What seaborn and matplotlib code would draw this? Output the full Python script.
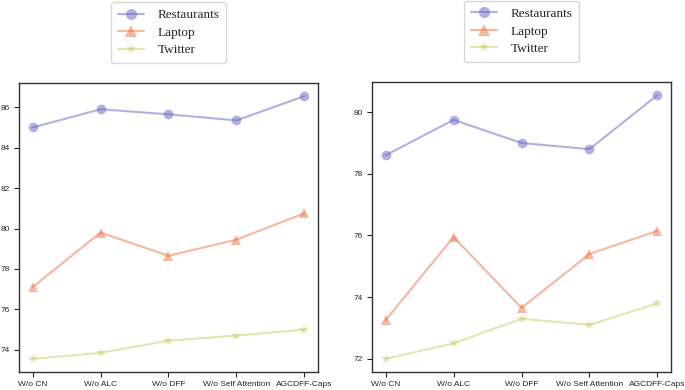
import matplotlib
matplotlib.use("Agg")
from matplotlib import pyplot as plt
import seaborn as sns
import pandas as pd

sns.set_style("ticks")
plt.rcParams["font.family"] = ["Liberation Sans", "DejaVu Sans"]

# ablation variants (x axis)
variants = ["W/o CN", "W/o ALC", "W/o DFF", "W/o Self Attention", "AGCDFF-Caps"]
datasets = ["Restaurants", "Laptop", "Twitter"]

# left panel scores
left_restaurants = [85.0, 85.9, 85.65, 85.35, 86.55]
left_laptop = [77.1, 79.8, 78.65, 79.45, 80.75]
left_twitter = [73.55, 73.85, 74.45, 74.7, 75.0]

# right panel scores
right_restaurants = [78.6, 79.75, 79.0, 78.8, 80.55]
right_laptop = [73.25, 75.95, 73.65, 75.4, 76.15]
right_twitter = [72.0, 72.5, 73.3, 73.1, 73.8]

left_ticks = [74, 76, 78, 80, 82, 84, 86]
right_ticks = [72, 74, 76, 78, 80]

palette = {"Restaurants": "#6464c4", "Laptop": "#f26e3f", "Twitter": "#cdcd61"}
markers = {"Restaurants": "o", "Laptop": "^", "Twitter": "*"}


def to_long(series):
    rows = []
    for name, vals in zip(datasets, series):
        for v, val in zip(variants, vals):
            rows.append({"variant": v, "score": val, "dataset": name})
    return pd.DataFrame(rows)


df_left = to_long([left_restaurants, left_laptop, left_twitter])
df_right = to_long([right_restaurants, right_laptop, right_twitter])

fig = plt.figure(figsize=(6.85, 3.9), dpi=100)
ax1 = fig.add_axes([19 / 685, 18 / 390, 299 / 685, 289 / 390])
ax2 = fig.add_axes([372 / 685, 18 / 390, 299 / 685, 290 / 390])

for ax, df, ticks in [(ax1, df_left, left_ticks), (ax2, df_right, right_ticks)]:
    sns.lineplot(data=df, x="variant", y="score", hue="dataset", style="dataset",
                 markers=markers, dashes=False, palette=palette, alpha=0.5,
                 markersize=7, markeredgewidth=0, linewidth=1.5, ax=ax)
    ax.set_yticks(ticks)
    ax.set_xlabel("")
    ax.set_ylabel("")
    ax.tick_params(labelsize=6.0, length=3.5, width=0.8, pad=3)
    for s in ax.spines.values():
        s.set_linewidth(1.0)
        s.set_color("#333333")
    ax.legend(loc="lower center", bbox_to_anchor=(0.5, 1.07), frameon=True,
              borderaxespad=0,
              prop={"family": "Liberation Serif", "size": 9.5},
              handlelength=2.0, borderpad=0.5, labelspacing=0.4,
              markerscale=1.15, handletextpad=1.0)

fig.savefig("out.png", dpi=100)
